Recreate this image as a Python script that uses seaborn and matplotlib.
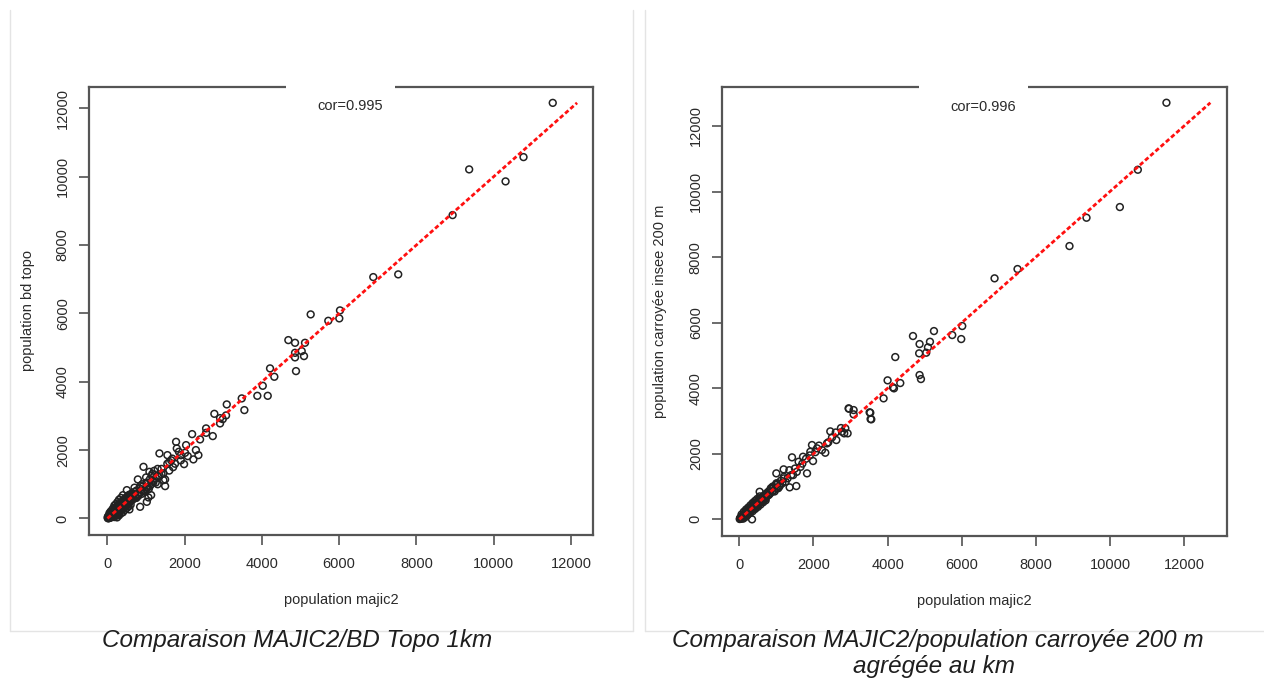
import matplotlib
matplotlib.use("Agg")
import matplotlib.pyplot as plt
import seaborn as sns
import pandas as pd
from matplotlib.patches import Rectangle
from matplotlib.lines import Line2D

# ---------------- data ----------------
left_high = [(11530, 12160), (10773, 10573), (9366, 10213), (10308, 9862), (8937, 8876),
             (7529, 7141), (6883, 7062), (5262, 5970), (5718, 5783), (6003, 5853), (6021, 6087),
             (4684, 5218), (4857, 5139), (5115, 5139), (4857, 4846), (5030, 4896), (4857, 4712),
             (5089, 4750), (4882, 4311), (4210, 4390), (4321, 4145), (4021, 3881), (3881, 3588),
             (4150, 3588), (3477, 3512), (3089, 3336), (3545, 3170), (2768, 3061), (3071, 3014),
             (2916, 2935), (2986, 2906), (2916, 2780), (2554, 2634), (2727, 2409), (2192, 2467),
             (2398, 2312), (2554, 2505), (1777, 2242), (2036, 2145), (1346, 1902), (1553, 1852),
             (1795, 2048), (2010, 1920), (2080, 1823), (2355, 1852), (2225, 1727), (1984, 1589),
             (933, 1510), (1087, 1364), (1208, 1393), (1320, 1217), (1449, 1121), (1493, 945),
             (1493, 1141), (787, 1141), (1001, 907), (1061, 614), (1019, 486), (1131, 682),
             (502, 828), (569, 263), (846, 340), (1650, 1700), (1700, 1500), (1900, 1850),
             (2290, 2000), (1150, 1250), (1250, 1050), (1400, 1300), (1600, 1650), (900, 1000),
             (1000, 1200), (1100, 950), (1300, 1450), (1180, 1100), (950, 800), (850, 950),
             (800, 700), (700, 900), (650, 550), (750, 600)]
left_cluster = [(10, 5), (20, 40), (30, 10), (40, 70), (50, 25), (60, 100), (70, 45), (80, 20),
                (90, 130), (100, 80), (110, 50), (120, 160), (130, 100), (140, 190), (150, 60),
                (160, 140), (170, 220), (180, 120), (190, 260), (200, 160), (210, 90), (220, 300),
                (230, 200), (240, 150), (250, 340), (260, 230), (270, 120), (280, 380), (290, 260),
                (300, 190), (310, 410), (320, 300), (330, 220), (340, 450), (350, 330), (360, 260),
                (370, 480), (380, 360), (390, 290), (400, 520), (410, 400), (420, 330), (430, 540),
                (440, 420), (450, 350), (460, 590), (470, 450), (480, 380), (490, 610), (500, 470),
                (510, 400), (520, 650), (530, 500), (540, 440), (550, 680), (560, 530), (570, 470),
                (580, 700), (600, 560), (620, 520), (640, 740), (660, 620), (680, 580), (700, 780),
                (720, 660), (740, 620), (760, 820), (780, 700), (800, 660), (830, 880), (860, 760),
                (890, 720), (920, 940), (950, 840), (980, 780), (1010, 1050), (1040, 900),
                (1070, 860), (1100, 1150), (1130, 1000), (1160, 1300), (1190, 1060), (1250, 1180),
                (1300, 1000), (1350, 1250), (1400, 1450), (1450, 1320), (1550, 1600), (1600, 1400),
                (1680, 1750), (1750, 1600), (1850, 1950), (1900, 1700), (50, 150), (80, 200),
                (120, 250), (150, 300), (180, 380), (220, 420), (260, 480), (300, 550), (350, 600),
                (400, 680), (300, 90), (350, 150), (400, 180), (450, 250), (500, 300), (550, 350),
                (600, 400), (250, 30), (180, 40), (70, 90), (110, 110), (130, 140), (210, 190),
                (270, 280), (330, 360), (390, 410), (460, 480), (530, 560), (610, 620), (690, 700),
                (5, 30), (15, 60), (25, 20), (35, 5)]

right_high = [(11524, 12709), (10752, 10665), (10267, 9527), (9367, 9201), (8908, 8337),
              (7506, 7636), (6886, 7352), (6014, 5897), (5744, 5622), (5987, 5500), (5251, 5744),
              (4685, 5592), (4863, 5348), (5143, 5418), (5089, 5247), (5043, 5083), (4852, 5064),
              (4207, 4951), (4863, 4402), (4900, 4280), (4000, 4240), (4342, 4158), (4172, 3996),
              (3892, 3691), (2958, 3374), (3083, 3334), (3083, 3203), (3515, 3264), (3541, 3060),
              (2742, 2785), (2454, 2684), (2921, 2623), (2830, 2623), (4145, 4026), (3533, 3252),
              (3560, 3051), (2948, 3386), (2859, 2776), (2770, 2673), (2616, 2419), (2365, 2318),
              (1960, 2267), (2095, 2166), (1915, 2062), (2230, 2114), (2319, 2032), (1988, 1779),
              (1421, 1891), (1718, 1910), (1599, 1757), (1826, 1403), (1195, 1525), (1537, 1016),
              (1357, 976), (998, 1403), (548, 842), (342, 0), (2050, 2050), (1800, 1850),
              (1650, 1600), (1500, 1550), (1400, 1350), (1300, 1250), (1200, 1300), (1100, 1050),
              (1250, 1150), (1350, 1500), (1450, 1350), (1550, 1450), (1700, 1700), (2150, 2250),
              (2400, 2350), (2500, 2500), (2600, 2650), (1900, 1950), (1000, 1100), (1050, 950),
              (900, 1000), (950, 850), (850, 950), (800, 750)]
right_cluster = [(10, 10), (20, 40), (30, 15), (40, 60), (50, 35), (60, 80), (70, 50), (80, 100),
                 (90, 70), (100, 120), (110, 90), (120, 150), (130, 110), (140, 170), (150, 130),
                 (160, 200), (170, 150), (180, 220), (190, 170), (200, 250), (210, 190), (220, 270),
                 (230, 210), (240, 290), (250, 230), (260, 310), (270, 250), (280, 340), (290, 270),
                 (300, 360), (310, 290), (320, 380), (330, 310), (340, 400), (350, 330), (360, 420),
                 (370, 350), (380, 450), (390, 370), (400, 470), (420, 390), (440, 500), (460, 430),
                 (480, 540), (500, 470), (520, 580), (540, 510), (560, 620), (580, 550), (600, 660),
                 (620, 590), (640, 700), (660, 630), (680, 740), (700, 670), (720, 780), (740, 700),
                 (760, 820), (780, 740), (800, 860), (830, 790), (860, 920), (890, 850), (920, 980),
                 (950, 900), (980, 1050), (1010, 950), (1040, 1100), (1080, 1000), (1120, 1180),
                 (1160, 1100), (1200, 1250), (60, 150), (120, 230), (180, 300), (240, 360),
                 (300, 430), (360, 500), (420, 560), (480, 620), (550, 700), (150, 60), (220, 130),
                 (290, 190), (360, 250), (430, 320), (500, 380), (570, 450), (640, 520), (710, 580),
                 (100, 20), (200, 110), (300, 240), (400, 330), (500, 420), (600, 530), (700, 620)]

tick_values = [0, 2000, 4000, 6000, 8000, 10000, 12000]
tick_labels = ["0", "2000", "4000", "6000", "8000", "10000", "12000"]
x_label = "population majic2"
y_labels = ["population bd topo", "population carroyée insee 200 m"]
cor_labels = ["cor=0.995", "cor=0.996"]
captions_left = ["Comparaison MAJIC2/BD Topo 1km"]
captions_right = ["Comparaison MAJIC2/population carroyée 200 m", "agrégée au km"]

# ---------------- style ----------------
sns.set_theme(style="white")
plt.rcParams['font.family'] = ['Liberation Sans', 'DejaVu Sans']

W, H = 1264, 679
fig = plt.figure(figsize=(W / 100, H / 100), dpi=100)
fig.patch.set_facecolor("white")

ax_l = fig.add_axes([89.3 / W, 1 - 535.0 / H, 504.0 / W, 448.2 / H])
ax_r = fig.add_axes([722.3 / W, 1 - 535.9 / H, 504.4 / W, 448.6 / H])

TXT = "#2a2a2a"


def draw_panel(ax, pts, ylab, cor, xlim, ylim, ylab_x):
    df = pd.DataFrame(pts, columns=["x", "y"])
    ymax = df["y"].max()
    line_df = pd.DataFrame({"x": [0, ymax], "y": [0, ymax]})
    sns.scatterplot(data=df, x="x", y="y", ax=ax, marker="o", s=24,
                    facecolors="none", edgecolor="#222222", linewidth=1.1, zorder=3)
    sns.lineplot(data=line_df, x="x", y="y", ax=ax, color="#ff1010", lw=2.0,
                 linestyle=(0, (1.6, 0.9)), zorder=4)
    ax.set_xlim(*xlim)
    ax.set_ylim(*ylim)
    ax.set_xticks(tick_values)
    ax.set_xticklabels(tick_labels)
    ax.set_yticks(tick_values)
    ax.set_yticklabels(tick_labels, rotation=90, va="center")
    ax.tick_params(axis="both", direction="out", length=7, width=1.1, color="#444444",
                   labelsize=10.5, labelcolor=TXT, bottom=True, left=True)
    ax.tick_params(axis="x", pad=9)
    ax.tick_params(axis="y", pad=7)
    for sp in ax.spines.values():
        sp.set_visible(True)
        sp.set_color("#555555")
        sp.set_linewidth(1.6)
    ax.set_xlabel(x_label, fontsize=10.5, color=TXT)
    ax.set_ylabel(ylab, fontsize=10.5, color=TXT)
    ax.xaxis.set_label_coords(0.5, -0.145)
    ax.xaxis.label.set_va("center")
    ax.yaxis.set_label_coords(ylab_x, 0.5)
    ax.yaxis.label.set_va("center")
    # legend box covering the top border
    ax.add_patch(Rectangle((0.39, 0.925), 0.217, 0.1, transform=ax.transAxes,
                           facecolor="white", edgecolor="none", clip_on=False, zorder=10))
    ax.text(0.518, 0.957, cor, transform=ax.transAxes, ha="center", va="center",
            fontsize=10.5, color=TXT, zorder=11)


draw_panel(ax_l, left_high + left_cluster, y_labels[0], cor_labels[0],
           (-470, 12580), (-485, 12630), -0.122)
draw_panel(ax_r, right_high + right_cluster, y_labels[1], cor_labels[1],
           (-460, 13150), (-505, 13180), -0.124)

# panel frames
frame_col = "#e4e4e4"
for xs, ys in [([10, 10], [10, 631]), ([10, 633], [631, 631]), ([633, 633], [10, 631]),
               ([645, 645], [10, 631]), ([645, 1264], [631, 631])]:
    fig.add_artist(Line2D([x / W for x in xs], [1 - y / H for y in ys],
                          color=frame_col, lw=1.0, transform=fig.transFigure))

cap_kw = dict(ha="center", va="center", fontsize=17.5, style="italic", color="#1e1e1e",
              family=['Liberation Sans', 'DejaVu Sans'])
fig.text(297 / W, 1 - 640 / H, captions_left[0], **cap_kw)
fig.text(938 / W, 1 - 640 / H, captions_right[0], **cap_kw)
fig.text(934 / W, 1 - 666 / H, captions_right[1], **cap_kw)

fig.savefig("out.png", dpi=100, facecolor="white")
